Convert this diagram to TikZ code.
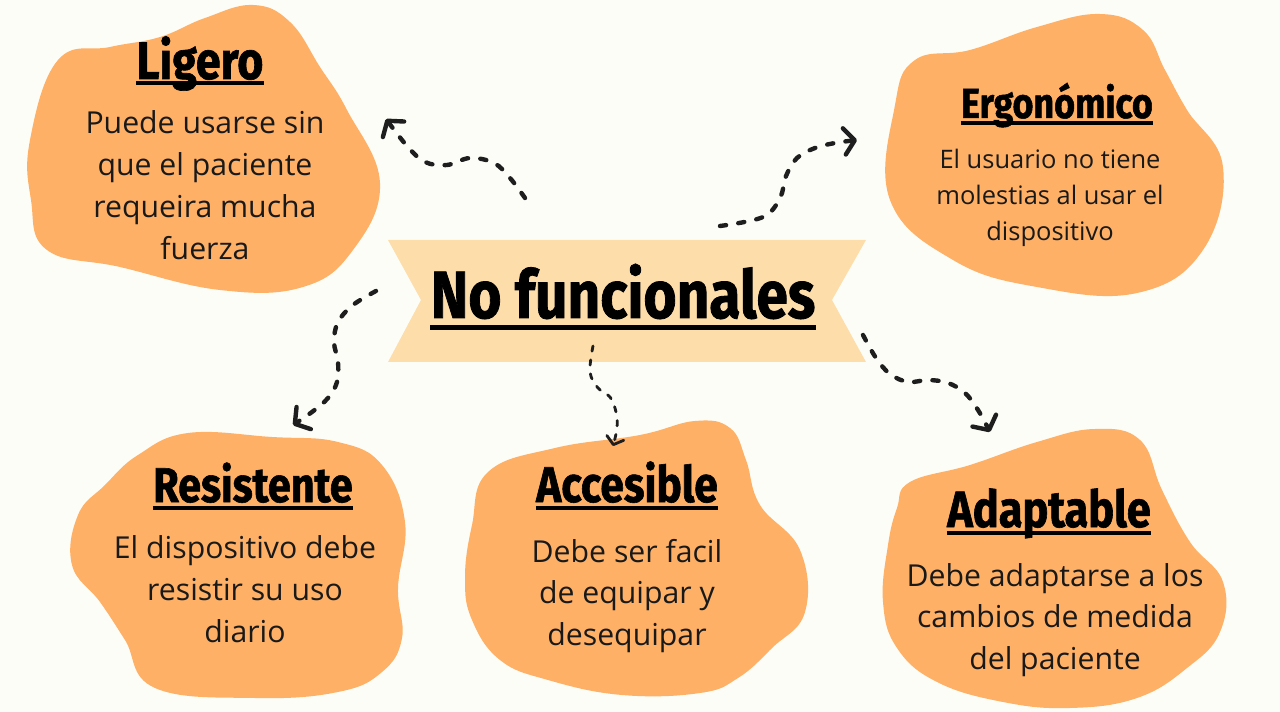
\documentclass[tikz,border=0pt]{standalone}
\usepackage{fontspec}
\newfontfamily\bodyfont{Open Sans}
\newfontfamily\headfont[FakeStretch=0.85, BoldFeatures={FakeBold=1.2}]{Fira Sans}
\usepackage{tikz}
\usetikzlibrary{arrows.meta}
\definecolor{paper}{RGB}{253,253,248}
\definecolor{blobfill}{RGB}{254,176,102}
\definecolor{bannerfill}{RGB}{253,222,170}
\definecolor{ink}{RGB}{30,30,30}

\begin{document}
\begin{tikzpicture}[
  x=0.02cm, y=-0.02cm,
  blob/.style={fill=blobfill},
  head/.style={font=\headfont\bfseries\fontsize{#1}{#1}\selectfont,
               text=black, inner sep=0pt, anchor=base},
  body/.style={font=\bodyfont\fontsize{17.2}{23.8}\selectfont,
               align=center, inner sep=0pt, text=black!90},
  small/.style={body, font=\bodyfont\fontsize{14.5}{20.4}\selectfont},
  uline/.style={line width=2.2pt, black},
  arr/.style={draw=ink, line width=2.5pt, line cap=round,
              dash pattern=on 3.5pt off 7pt,
              -{Straight Barb[length=6pt, width=15pt, round]}},
  thinarr/.style={arr, line width=1.6pt, dash pattern=on 3pt off 5pt,
              -{Straight Barb[length=4pt, width=10pt, round]}},
]
  \fill[paper] (0,0) rectangle (1280,712);

  \fill[blob] plot[smooth cycle, tension=0.7] coordinates {
    (58,60) (110,47) (160,37) (205,18) (253,5) (290,22) (320,67)
    (347,110) (380,183) (353,250) (303,287) (220,290) (120,267)
    (47,250) (31,200) (30,140)};
  \fill[blob] plot[smooth cycle, tension=0.7] coordinates {
    (915,60) (970,50) (1037,27) (1100,14) (1143,30) (1165,70)
    (1187,110) (1223,167) (1203,250) (1137,293) (1037,287)
    (953,260) (890,200) (895,105)};
  \fill[blob] plot[smooth cycle, tension=0.7] coordinates {
    (138,455) (188,433) (272,437) (338,442) (382,465) (405,522)
    (398,588) (402,638) (382,672) (338,692) (255,698) (155,688)
    (125,640) (100,602) (72,565) (78,515) (105,485)};
  \fill[blob] plot[smooth cycle, tension=0.7] coordinates {
    (488,472) (555,448) (640,435) (695,421) (730,428) (746,460)
    (760,505) (800,550) (805,612) (772,648) (738,678) (700,693)
    (622,695) (548,680) (500,660) (472,620) (465,578) (472,525)};
  \fill[blob] plot[smooth cycle, tension=0.7] coordinates {
    (910,482) (970,465) (1037,442) (1095,429) (1140,440) (1162,490)
    (1190,542) (1223,582) (1220,632) (1187,668) (1137,698) (1070,708)
    (1003,702) (937,682) (897,648) (883,602) (888,545) (897,508)};

  \fill[bannerfill] (388,240) -- (866,240) -- (832,300) -- (866,362)
    -- (388,362) -- (421,300) -- cycle;

  \node[head=38] (main) at (623,318) {No funcionales};
  \draw[uline, line width=2.6pt] ([yshift=-5.5pt]main.base west) -- ([yshift=-5.5pt]main.base east);

  \node[head=30] (ligT) at (200,79) {Ligero};
  \draw[uline] ([yshift=-2.5pt]ligT.base west) -- ([yshift=-2.5pt]ligT.base east);
  \node[body] (ligB) at (205,185)
    {Puede usarse sin\\que el paciente\\requeira mucha\\fuerza};

  \node[head=24] (ergT) at (1057,118) {Ergonómico};
  \draw[uline] ([yshift=-3pt]ergT.base west) -- ([yshift=-3pt]ergT.base east);
  \node[small] (ergB) at (1050,198)
    {El usuario no tiene\\molestias al usar el\\dispositivo};

  \node[head=27.7] (resT) at (253,502) {Resistente};
  \draw[uline] ([yshift=-3.2pt]resT.base west) -- ([yshift=-3.2pt]resT.base east);
  \node[body] (resB) at (245,589)
    {El dispositivo debe\\resistir su uso\\diario};

  \node[head=28.5] (accT) at (627,502) {Accesible};
  \draw[uline] ([yshift=-3.2pt]accT.base west) -- ([yshift=-3.2pt]accT.base east);
  \node[body] (accB) at (627,596)
    {Debe ser facil\\de equipar y\\desequipar};

  \node[head=29] (adaT) at (1049,527) {Adaptable};
  \draw[uline] ([yshift=-3.2pt]adaT.base west) -- ([yshift=-3.2pt]adaT.base east);
  \node[body] (adaB) at (1055,620)
    {Debe adaptarse a los\\cambios de medida\\del paciente};

  \coordinate (ligS) at (525,198);
  \coordinate (ligE) at (386,119);
  \coordinate (ergS) at (720,226);
  \coordinate (ergE) at (857,140);
  \coordinate (resS) at (376,291);
  \coordinate (resE) at (293,425);
  \coordinate (accS) at (593,346);
  \coordinate (accE) at (613,446);
  \coordinate (adaS) at (863,335);
  \coordinate (adaE) at (990,432);

  \draw[arr] plot[smooth, tension=0.6] coordinates {(ligS) (510,178) (494,163)
    (470,158) (447,165) (425,162) (407,146) (ligE)};
  \draw[arr] plot[smooth, tension=0.6] coordinates {(ergS) (763,217) (780,198)
    (786,176) (797,158) (815,148) (835,143) (ergE)};
  \draw[arr] plot[smooth, tension=0.6] coordinates {(resS) (353,305) (338,322)
    (334,342) (338,362) (337,382) (328,398) (312,412) (resE)};
  \draw[thinarr] plot[smooth, tension=0.6] coordinates {(accS) (590,372) (598,388)
    (610,397) (616,412) (617,428) (accE)};
  \draw[arr] plot[smooth, tension=0.6] coordinates {(adaS) (876,358) (890,374)
    (908,382) (928,380) (948,383) (965,393) (978,410) (adaE)};
\end{tikzpicture}
\end{document}
